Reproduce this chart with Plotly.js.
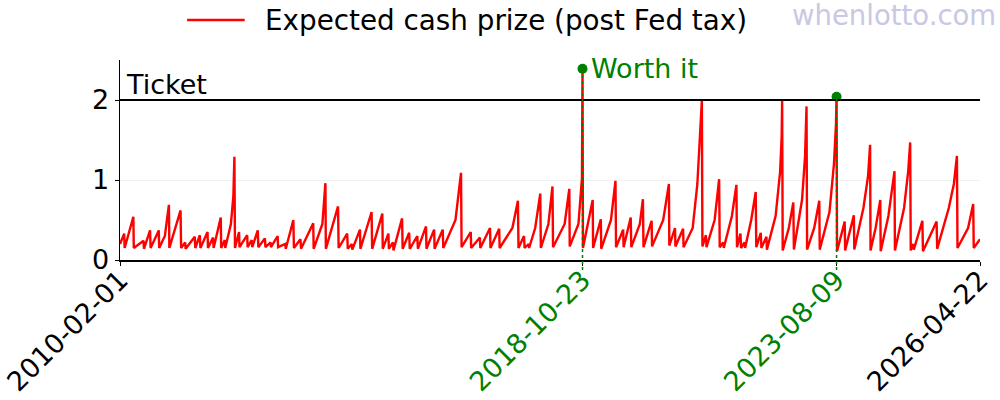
<!DOCTYPE html>
<html>
<head>
<meta charset="utf-8">
<script src="https://cdn.plot.ly/plotly-3.0.1.min.js"></script>
<style>
  html, body { margin: 0; padding: 0; background: #fff; }
  #chart { width: 1000px; height: 400px; }
</style>
</head>
<body>
<div id="chart"></div>
<script>
// draw dates and expected cash value per $ ticket
const drawDates = [
  "2010-02-01","2010-03-02","2010-03-05","2010-05-04","2010-05-07","2010-07-13","2010-07-16",
  "2010-08-27","2010-08-31","2010-10-26","2010-10-29","2010-12-07","2011-01-04","2011-01-07",
  "2011-03-25","2011-03-29","2011-04-26","2011-04-29","2011-07-01","2011-07-05","2011-08-05",
  "2011-08-09","2011-09-27","2011-09-30","2011-11-04","2011-11-08","2011-12-27","2011-12-30",
  "2012-01-24","2012-01-27","2012-03-06","2012-03-23","2012-03-30","2012-04-03","2012-05-01",
  "2012-05-04","2012-06-26","2012-06-29","2012-07-27","2012-07-31","2012-09-07","2012-09-11",
  "2012-10-26","2012-10-30","2012-12-04","2012-12-07","2013-01-22","2013-01-25","2013-03-15",
  "2013-03-19","2013-05-10","2013-05-14","2013-06-28","2013-07-02","2013-09-24","2013-09-27",
  "2013-11-26","2013-12-17","2013-12-20","2014-03-14","2014-03-18","2014-05-16","2014-05-20",
  "2014-06-17","2014-06-20","2014-08-12","2014-08-15","2014-10-31","2014-11-04","2015-01-13",
  "2015-01-16","2015-02-24","2015-02-27","2015-03-27","2015-03-31","2015-05-29","2015-06-02",
  "2015-07-17","2015-07-21","2015-09-11","2015-09-15","2015-11-10","2015-11-13","2016-01-05",
  "2016-01-08","2016-03-04","2016-03-08","2016-05-31","2016-07-08","2016-07-12","2016-09-13",
  "2016-09-16","2016-11-15","2016-11-18","2017-01-24","2017-01-27","2017-03-28","2017-03-31",
  "2017-06-27","2017-08-04","2017-08-08","2017-09-15","2017-09-19","2017-10-17","2017-10-20",
  "2017-12-01","2018-01-05","2018-01-09","2018-03-02","2018-03-30","2018-04-03","2018-06-22",
  "2018-07-24","2018-07-27","2018-09-25","2018-10-16","2018-10-19","2018-10-23","2018-10-26",
  "2019-01-01","2019-01-04","2019-02-26","2019-03-01","2019-05-07","2019-06-07","2019-06-11",
  "2019-07-30","2019-08-02","2019-09-20","2019-09-24","2019-11-22","2019-12-13","2019-12-17",
  "2020-02-11","2020-02-14","2020-05-01","2020-06-09","2020-06-12","2020-07-21","2020-07-24",
  "2020-09-15","2020-09-18","2020-11-20","2020-12-22","2021-01-12","2021-01-22","2021-01-26",
  "2021-02-19","2021-02-23","2021-04-20","2021-05-21","2021-05-25","2021-06-18","2021-06-22",
  "2021-08-17","2021-09-17","2021-09-21","2021-10-15","2021-10-19","2021-11-12","2021-11-16",
  "2021-12-28","2022-01-28","2022-02-01","2022-03-04","2022-03-08","2022-04-12","2022-04-15",
  "2022-06-14","2022-07-15","2022-07-26","2022-07-29","2022-08-02","2022-09-13","2022-10-14",
  "2022-10-18","2022-12-13","2023-01-03","2023-01-13","2023-01-17","2023-03-07","2023-04-11",
  "2023-04-14","2023-06-20","2023-07-21","2023-08-04","2023-08-08","2023-08-11","2023-10-03",
  "2023-10-06","2023-12-05","2023-12-08","2024-02-09","2024-03-12","2024-03-26","2024-03-29",
  "2024-05-03","2024-06-04","2024-06-07","2024-07-30","2024-09-10","2024-09-13","2024-11-15",
  "2024-12-13","2024-12-27","2024-12-31","2025-01-17","2025-01-21","2025-03-21","2025-03-25",
  "2025-06-27","2025-07-01","2025-09-19","2025-10-24","2025-11-14","2025-11-18","2026-01-30",
  "2026-03-06","2026-03-10","2026-04-22"
];
const cashPrize = [
  0.20,0.33,0.15,0.54,0.15,0.24,0.14,
  0.37,0.15,0.37,0.15,0.30,0.69,0.15,
  0.62,0.15,0.22,0.14,0.29,0.15,0.31,
  0.15,0.35,0.15,0.28,0.15,0.53,0.15,
  0.25,0.15,0.45,0.80,1.29,0.15,0.35,
  0.16,0.31,0.16,0.25,0.16,0.37,0.16,
  0.27,0.16,0.22,0.16,0.30,0.16,0.20,
  0.14,0.50,0.15,0.26,0.14,0.46,0.14,
  0.45,0.96,0.14,0.67,0.15,0.33,0.14,
  0.20,0.13,0.38,0.14,0.60,0.14,0.58,
  0.14,0.33,0.14,0.22,0.12,0.52,0.14,
  0.34,0.14,0.30,0.14,0.42,0.14,0.38,
  0.14,0.38,0.15,0.50,1.09,0.16,0.35,
  0.15,0.28,0.15,0.40,0.15,0.39,0.15,
  0.40,0.74,0.15,0.30,0.15,0.20,0.15,
  0.40,0.83,0.15,0.45,0.92,0.16,0.45,
  0.89,0.17,0.45,0.90,1.02,2.39,0.15,
  0.75,0.15,0.51,0.14,0.50,0.99,0.16,
  0.38,0.16,0.53,0.16,0.45,0.76,0.16,
  0.49,0.17,0.50,0.95,0.18,0.40,0.17,
  0.39,0.16,0.40,0.95,1.60,1.99,0.17,
  0.31,0.16,0.50,1.01,0.16,0.22,0.15,
  0.55,0.94,0.16,0.33,0.15,0.22,0.15,
  0.50,0.85,0.16,0.34,0.15,0.29,0.13,
  0.55,1.10,1.55,1.99,0.12,0.40,0.72,
  0.13,0.75,1.30,1.92,0.13,0.40,0.74,
  0.13,0.60,1.20,1.70,2.04,0.11,0.48,
  0.12,0.56,0.13,0.65,1.05,1.44,0.12,
  0.40,0.75,0.11,0.55,1.11,0.12,0.65,
  1.10,1.47,0.12,0.20,0.13,0.49,0.11,
  0.48,0.14,0.65,0.95,1.30,0.15,0.40,
  0.70,0.15,0.26
];

const ticketPrice = 2;
const worthDates = ["2018-10-23", "2023-08-08"];
const worthValues = [2.39, 2.04];
const tickDates = ["2010-02-01", "2018-10-23", "2023-08-09", "2026-04-22"];
const tickLabels = ["2010-02-01", "2018-10-23", "2023-08-09", "2026-04-22"];
const tickColors = ["black", "green", "green", "black"];
const seriesName = "Expected cash prize (post Fed tax)";

const FONT = "DejaVu Sans, Liberation Sans, sans-serif";
const YMAX = 2.5;

const traces = [
  {
    x: drawDates, y: cashPrize, mode: "lines",
    name: seriesName, showlegend: false,
    line: { color: "red", width: 2.4 }
  },
  {
    x: worthDates, y: worthValues, mode: "markers",
    showlegend: false,
    marker: { color: "green", size: 10 },
    cliponaxis: false
  }
];

const shapes = [
  { type: "line", xref: "paper", yref: "y", x0: 0, x1: 1, y0: ticketPrice, y1: ticketPrice,
    line: { color: "black", width: 2 } },
  // legend sample line
  { type: "line", xref: "paper", yref: "paper", x0: 0.078, x1: 0.145, y0: 1.2, y1: 1.2,
    line: { color: "red", width: 2.4 } }
];
worthDates.forEach((d, i) => {
  shapes.push({
    type: "line", xref: "x", yref: "paper", x0: d, x1: d,
    y0: -0.05, y1: worthValues[i] / YMAX,
    line: { color: "green", width: 1.5, dash: "dot" }
  });
});

const layout = {
  width: 1000, height: 400,
  margin: { l: 120, r: 20, t: 60, b: 140, autoexpand: false },
  paper_bgcolor: "white", plot_bgcolor: "white",
  font: { family: FONT, size: 27, color: "black" },
  showlegend: false,
  xaxis: {
    type: "date",
    range: ["2010-02-01", "2026-04-22"],
    tickmode: "array",
    tickvals: tickDates,
    ticktext: tickLabels.map((t, i) => '<span style="color:' + tickColors[i] + '">' + t + '</span>'),
    tickangle: -45,
    ticks: "outside", ticklen: 4, tickcolor: "black",
    ticklabelstandoff: -12,
    showgrid: false, zeroline: false,
    showline: true, linecolor: "black", linewidth: 1.5,
    tickfont: { size: 27 }
  },
  yaxis: {
    range: [0, YMAX],
    tickvals: [0, 1, 2],
    ticks: "outside", ticklen: 4, tickcolor: "black",
    showgrid: true, gridcolor: "#f0f0f0",
    zeroline: false,
    showline: true, linecolor: "black", linewidth: 1.5,
    tickfont: { size: 27 }
  },
  shapes: shapes,
  annotations: [
    { x: 0.166, y: 1.2, xref: "paper", yref: "paper", text: seriesName,
      showarrow: false, xanchor: "left", yanchor: "middle",
      font: { size: 27.8, color: "black" } },
    { x: "2010-02-01", y: ticketPrice, xref: "x", yref: "y", text: "Ticket",
      showarrow: false, xanchor: "left", yanchor: "bottom", xshift: 4, yshift: -2,
      font: { size: 27, color: "black" } },
    { x: worthDates[0], y: worthValues[0], xref: "x", yref: "y", text: "Worth it",
      showarrow: false, xanchor: "left", yanchor: "middle", xshift: 6,
      font: { size: 27, color: "green" } },
    { x: 1, y: 1.225, xref: "paper", yref: "paper", text: "whenlotto.com",
      showarrow: false, xanchor: "right", yanchor: "middle", xshift: 18,
      font: { size: 27.5, color: "#c8c8e4" } }
  ]
};

Plotly.newPlot("chart", traces, layout, { displayModeBar: false, staticPlot: true });
</script>
</body>
</html>
